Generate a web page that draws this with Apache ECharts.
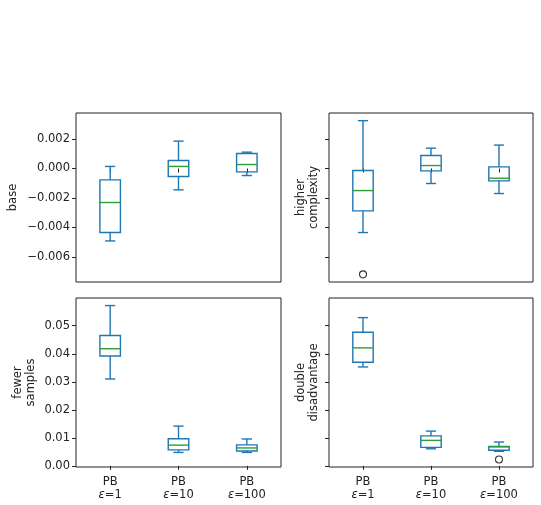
<!DOCTYPE html>
<html>
<head>
	<meta charset="utf-8" />
	<title>PB boxplots</title>
	<script src="https://cdn.jsdelivr.net/npm/echarts@6/dist/echarts.min.js"></script>
	<style>
		html, body { margin: 0; padding: 0; background: #fff; }
	</style>
</head>
<body>
	<div id="main" style="width: 541px;height: 505px;"></div>

	<script type="text/javascript">
		// categories (x axis)
		var categories = ['PB\nε=1', 'PB\nε=10', 'PB\nε=100'];

		// each box: [whisker low, Q1, median, Q3, whisker high]
		var baseStats = [
			[-0.00492, -0.00435, -0.00231, -0.00077, 0.00014],
			[-0.00145, -0.00054, 0.00014, 0.00054, 0.00186],
			[-0.00048, -0.00023, 0.00027, 0.00102, 0.00111]
		];
		var complexityStats = [
			[-0.00435, -0.00288, -0.00150, -0.00014, 0.00325],
			[-0.00102, -0.00016, 0.00020, 0.00088, 0.00138],
			[-0.00170, -0.00084, -0.00066, 0.00011, 0.00159]
		];
		var samplesStats = [
			[0.0310, 0.0392, 0.0418, 0.0465, 0.0572],
			[0.0048, 0.0057, 0.0074, 0.0097, 0.0142],
			[0.0048, 0.0053, 0.0064, 0.0075, 0.0096]
		];
		var doubleStats = [
			[0.0353, 0.0370, 0.0421, 0.0477, 0.0529],
			[0.0061, 0.0066, 0.0091, 0.0107, 0.0124],
			[0.0052, 0.0056, 0.0068, 0.0069, 0.0085]
		];

		// outliers: [category index, value]
		var complexityOutliers = [[0, -0.00719]];
		var doubleOutliers = [[2, 0.0023]];

		// tick labels
		var topTicks = [-0.006, -0.004, -0.002, 0.000, 0.002];
		var bottomTicks = [0.00, 0.01, 0.02, 0.03, 0.04, 0.05];

		var myChart = echarts.init(document.getElementById('main'), null, {renderer: 'canvas'});

		var FONT = 'DejaVu Sans';
		var FS = 11.5;
		var BLUE = '#1f77b4';
		var GREEN = '#2ca02c';

		function toRows(stats) {
			return stats.map(function (s, i) { return [i].concat(s); });
		}

		function fmt(digits) {
			return function (v) {
				var s = Math.abs(v).toFixed(digits);
				return (v < -1e-12 ? '\u2212' : '') + s;
			};
		}

		function renderBox(params, api) {
			var x = api.value(0);
			var lo = api.coord([x, api.value(1)]);
			var q1 = api.coord([x, api.value(2)]);
			var md = api.coord([x, api.value(3)]);
			var q3 = api.coord([x, api.value(4)]);
			var hi = api.coord([x, api.value(5)]);
			var w = api.size([1, 0])[0] * 0.3;
			var cx = lo[0];
			var st = {stroke: BLUE, lineWidth: 1.4, fill: null};
			return {
				type: 'group',
				children: [
					{type: 'line', shape: {x1: cx, y1: q3[1], x2: cx, y2: hi[1]}, style: st},
					{type: 'line', shape: {x1: cx, y1: q1[1], x2: cx, y2: lo[1]}, style: st},
					{type: 'line', shape: {x1: cx - w / 4, y1: hi[1], x2: cx + w / 4, y2: hi[1]}, style: st},
					{type: 'line', shape: {x1: cx - w / 4, y1: lo[1], x2: cx + w / 4, y2: lo[1]}, style: st},
					{type: 'rect', shape: {x: cx - w / 2, y: q3[1], width: w, height: q1[1] - q3[1]}, style: st},
					{type: 'line', shape: {x1: cx - w / 2, y1: md[1], x2: cx + w / 2, y2: md[1]},
						style: {stroke: GREEN, lineWidth: 1.4}}
				]
			};
		}

		var grids = [
			{left: 76, top: 113, width: 205, height: 169},
			{left: 329, top: 113, width: 204, height: 169},
			{left: 76, top: 298, width: 205, height: 169},
			{left: 329, top: 298, width: 204, height: 169}
		].map(function (g) {
			return Object.assign({show: true, borderColor: '#222', borderWidth: 1, backgroundColor: '#fff'}, g);
		});

		function xAxis(gi, showLabels) {
			return {
				type: 'category',
				gridIndex: gi,
				data: categories,
				axisLine: {show: false},
				axisTick: {show: true, alignWithLabel: true, interval: 0, length: 4, lineStyle: {color: '#222'}},
				splitLine: {show: false},
				axisLabel: {
					show: showLabels,
					interval: 0,
					hideOverlap: false,
					margin: 8,
					fontFamily: FONT,
					fontSize: FS,
					color: '#222',
					lineHeight: 13.5,
					formatter: function (v) {
						return v.split('\n').map(function (line) {
							return line.split('ε').map(function (p) {
								return p ? '{n|' + p + '}' : '';
							}).join('{e|ε}');
						}).join('\n');
					},
					rich: {
						n: {fontFamily: FONT, fontSize: FS, color: '#222', lineHeight: 13.5},
						e: {fontFamily: FONT, fontSize: FS, fontStyle: 'italic', color: '#222', lineHeight: 13.5}
					}
				}
			};
		}

		function yAxis(gi, min, max, ticks, digits, showLabels, name, gap) {
			return {
				type: 'value',
				gridIndex: gi,
				min: min,
				max: max,
				name: name,
				nameLocation: 'middle',
				nameRotate: 90,
				nameGap: gap,
				nameTextStyle: {fontFamily: FONT, fontSize: FS, color: '#222', lineHeight: 13, align: 'center'},
				axisLine: {show: false},
				splitLine: {show: false},
				axisTick: {show: true, length: 4, lineStyle: {color: '#222'}, customValues: ticks},
				axisLabel: {
					show: showLabels,
					margin: 6,
					fontFamily: FONT,
					fontSize: FS,
					color: '#222',
					customValues: ticks,
					formatter: fmt(digits)
				}
			};
		}

		var option = {
			backgroundColor: '#fff',
			animation: false,
			grid: grids,
			xAxis: [xAxis(0, false), xAxis(1, false), xAxis(2, true), xAxis(3, true)],
			yAxis: [
				yAxis(0, -0.00771, 0.00377, topTicks, 3, true, 'base', 56),
				yAxis(1, -0.00771, 0.00377, topTicks, 3, false, 'higher\ncomplexity', 8),
				yAxis(2, -0.0004, 0.0599, bottomTicks, 2, true, 'fewer\nsamples', 38),
				yAxis(3, -0.0004, 0.0599, bottomTicks, 2, false, 'double\ndisadvantage', 8)
			],
			series: [
				{type: 'custom', xAxisIndex: 0, yAxisIndex: 0, renderItem: renderBox, data: toRows(baseStats)},
				{type: 'custom', xAxisIndex: 1, yAxisIndex: 1, renderItem: renderBox, data: toRows(complexityStats)},
				{type: 'custom', xAxisIndex: 2, yAxisIndex: 2, renderItem: renderBox, data: toRows(samplesStats)},
				{type: 'custom', xAxisIndex: 3, yAxisIndex: 3, renderItem: renderBox, data: toRows(doubleStats)},
				{
					type: 'scatter', xAxisIndex: 1, yAxisIndex: 1, data: complexityOutliers,
					symbol: 'circle', symbolSize: 7,
					itemStyle: {color: 'rgba(0,0,0,0)', borderColor: '#000', borderWidth: 1.1}
				},
				{
					type: 'scatter', xAxisIndex: 3, yAxisIndex: 3, data: doubleOutliers,
					symbol: 'circle', symbolSize: 7,
					itemStyle: {color: 'rgba(0,0,0,0)', borderColor: '#000', borderWidth: 1.1}
				}
			]
		};

		myChart.setOption(option);
	</script>
</body>
</html>
